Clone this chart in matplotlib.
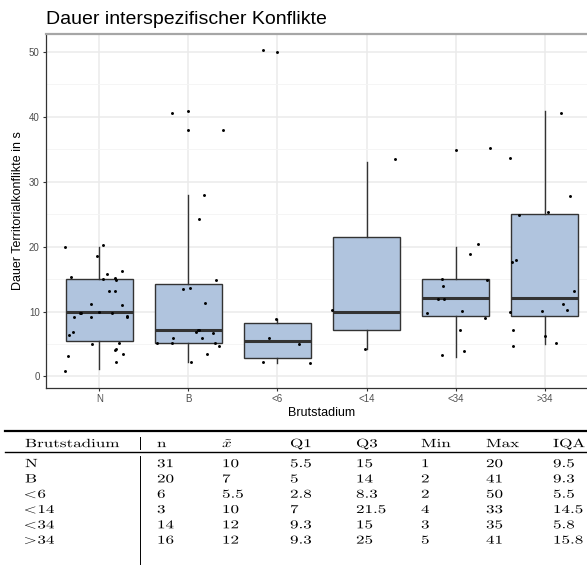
import numpy as np
import matplotlib
matplotlib.use("Agg")
import matplotlib.pyplot as plt
from matplotlib.textpath import TextPath
from matplotlib.patches import PathPatch
from matplotlib.font_manager import FontProperties
from matplotlib.transforms import Affine2D

plt.rcParams['font.family'] = ['Liberation Sans', 'DejaVu Sans']
plt.rcParams['mathtext.fontset'] = 'cm'

# Gruppen
stadien = ["N", "B", "<6", "<14", "<34", ">34"]

# Boxplot-Kennwerte
q1 = [5.5, 5.1, 2.85, 7.1, 9.3, 9.3]
med = [10.0, 7.1, 5.5, 10.0, 12.1, 12.1]
q3 = [15.0, 14.2, 8.3, 21.4, 15.0, 25.0]
whis_lo = [1.1, 2.2, 2.1, 4.2, 3.05, 5.05]
whis_hi = [19.9, 27.9, 8.9, 33.0, 19.9, 40.9]

# Jitter-Punkte: horizontale Verschiebung + Wert
jit_N = [-0.39, 0.04, -0.03, -0.32, 0.09, 0.04, 0.17, 0.19, 0.25, 0.11, 0.18, -0.10, 0.25, -0.29,
         -0.22, -0.21, -0.01, 0.14, -0.10, 0.31, 0.31, -0.30, -0.34, -0.08, 0.22, 0.19, 0.18, 0.26,
         -0.35, 0.19, -0.39]
val_N = [19.9, 20.2, 18.6, 15.3, 15.7, 15.0, 15.1, 14.9, 16.3, 13.1, 13.2, 11.2, 11.0, 9.1,
         9.8, 9.8, 10.0, 9.8, 9.1, 9.1, 9.3, 6.8, 6.4, 5.0, 5.2, 4.3, 4.1, 3.4, 3.2, 2.2, 0.8]
jit_B = [-0.19, 0.00, 0.00, 0.39, 0.17, 0.12, 0.31, 0.02, -0.06, 0.19, 0.12, 0.11, 0.09, 0.28,
         -0.17, 0.15, -0.35, -0.18, 0.30, 0.34, 0.21, 0.03]
val_B = [40.6, 40.9, 37.9, 37.9, 27.9, 24.2, 14.9, 13.6, 13.4, 11.3, 7.2, 7.1, 6.9, 6.7,
         5.9, 5.9, 5.2, 5.2, 5.1, 4.7, 3.4, 2.2]
jit_6 = [-0.16, 0.00, -0.02, -0.09, 0.24, -0.16, 0.36]
val_6 = [50.2, 49.9, 8.8, 6.0, 5.0, 2.3, 2.0]
jit_14 = [0.32, -0.39, -0.02]
val_14 = [33.4, 10.3, 4.2]
jit_34 = [0.00, 0.39, 0.25, 0.16, -0.15, 0.35, -0.14, -0.20, -0.13, -0.32, 0.07, 0.33, 0.05, 0.10, -0.15]
val_34 = [34.9, 35.1, 20.4, 18.9, 15.05, 14.9, 13.9, 12.0, 12.0, 9.7, 10.15, 9.0, 7.1, 3.9, 3.3]
jit_g34 = [0.18, 0.28, -0.39, 0.04, -0.29, -0.37, -0.32, 0.33, 0.21, -0.39, -0.03, 0.25, -0.35,
           0.01, -0.36, 0.13]
val_g34 = [40.6, 27.7, 33.6, 25.3, 24.9, 17.6, 18.0, 13.2, 11.2, 9.95, 10.15, 10.25, 7.2, 6.2, 4.7, 5.1]

jitter = [jit_N, jit_B, jit_6, jit_14, jit_34, jit_g34]
werte = [val_N, val_B, val_6, val_14, val_34, val_g34]

# Tabelle
tab_kopf = ["Brutstadium", "n", r"$\tilde{x}$", "Q1", "Q3", "Min", "Max", "IQA"]
tab_stadium = ["N", "B", "<6", "<14", "<34", ">34"]
tab_n = ["31", "20", "6", "3", "14", "16"]
tab_med = ["10", "7", "5.5", "10", "12", "12"]
tab_q1 = ["5.5", "5", "2.8", "7", "9.3", "9.3"]
tab_q3 = ["15", "14", "8.3", "21.5", "15", "25"]
tab_min = ["1", "2", "2", "4", "3", "5"]
tab_max = ["20", "41", "50", "33", "35", "41"]
tab_iqa = ["9.5", "9.3", "5.5", "14.5", "5.8", "15.8"]

W, H = 587, 568
fig = plt.figure(figsize=(W / 100, H / 100), dpi=100)

ax = fig.add_axes([46 / W, 1 - 388 / H, 552 / W, 354 / H])
pos = np.arange(1, 7)
stats = []
for i in range(6):
    stats.append(dict(med=med[i], q1=q1[i], q3=q3[i], whislo=whis_lo[i], whishi=whis_hi[i], fliers=[]))
ax.bxp(stats, positions=pos, widths=0.75, patch_artist=True, showfliers=False, showcaps=False,
       boxprops=dict(facecolor='#B0C4DE', edgecolor='#333333', linewidth=1.0),
       medianprops=dict(color='#333333', linewidth=2.2, solid_capstyle='butt'),
       whiskerprops=dict(color='#333333', linewidth=1.0), zorder=2)
for i in range(6):
    ax.scatter(pos[i] + np.array(jitter[i]), werte[i], s=4.5, color='black', lw=0, zorder=3)

ax.set_xlim(0.4, 6.6)
ax.set_ylim(-1.77, 52.7)
ax.set_xticks(pos)
ax.set_xticklabels(stadien)
ax.set_yticks(np.arange(0, 51, 10))
ax.set_yticks(np.arange(5, 50, 10), minor=True)
ax.grid(which='major', color='#EBEBEB', linewidth=1.1)
ax.grid(which='minor', axis='y', color='#F4F4F4', linewidth=0.6)
ax.set_axisbelow(True)
ax.tick_params(which='major', length=2.5, width=0.8, color='#333333', labelcolor='#4D4D4D',
               labelsize=7, pad=2)
ax.tick_params(which='minor', length=0)
for s in ['left', 'bottom']:
    ax.spines[s].set_color('#333333')
    ax.spines[s].set_linewidth(0.9)
ax.spines['top'].set_color('#A6A6A6')
ax.spines['top'].set_linewidth(1.6)
ax.spines['right'].set_visible(False)
ax.set_xlabel("Brutstadium", fontsize=9, labelpad=2)

fig.text(46 / W, 1 - 24 / H, "Dauer interspezifischer Konflikte", fontsize=14, ha='left', va='baseline')
fig.text(18 / W, 1 - 211 / H, "Dauer Territorialkonflikte in s", fontsize=9, rotation=90,
         ha='center', va='center')

# Tabelle als gestreckter Text in Pixelkoordinaten
tx = fig.add_axes([0, 0, 1, 1])
tx.set_xlim(0, W)
tx.set_ylim(H, 0)
tx.axis('off')
tx.patch.set_alpha(0)

fp = FontProperties(family='cmr10')
em = 12.0
sx = 1.42
cap = 0.683 * em


def schreib(x, yc, s):
    if s[0] in "<>":
        # Vergleichszeichen aus der Mathe-Schrift, Zahl direkt dahinter
        p = TextPath((0, 0), "$" + s[0] + "$", size=em, prop=fp)
        ext = p.get_extents()
        tr = Affine2D().translate(-ext.x0, 0).scale(sx, -1).translate(x, yc + cap / 2) + tx.transData
        tx.add_patch(PathPatch(p, transform=tr, fc='black', lw=0))
        x = x + (ext.x1 - ext.x0) * sx + 2.0
        s = s[1:]
    p = TextPath((0, 0), s, size=em, prop=fp)
    tr = Affine2D().scale(sx, -1).translate(x, yc + cap / 2) + tx.transData
    tx.add_patch(PathPatch(p, transform=tr, fc='black', lw=0))


spalten_x = [25, 157, 222, 290, 356, 421, 486, 553]
tx.plot([5, W], [431, 431], color='black', lw=1.6)
tx.plot([5, W], [452, 452], color='black', lw=1.0)
tx.plot([140, 140], [437, 449], color='black', lw=0.7)
tx.plot([140, 140], [456, 564], color='black', lw=0.7)
for j, k in enumerate(tab_kopf):
    schreib(spalten_x[j], 443, k)
spalten = [tab_stadium, tab_n, tab_med, tab_q1, tab_q3, tab_min, tab_max, tab_iqa]
for i in range(6):
    y = 463 + i * 15.3
    for j, col in enumerate(spalten):
        schreib(spalten_x[j], y, col[i])

fig.savefig("out.png", dpi=100)
